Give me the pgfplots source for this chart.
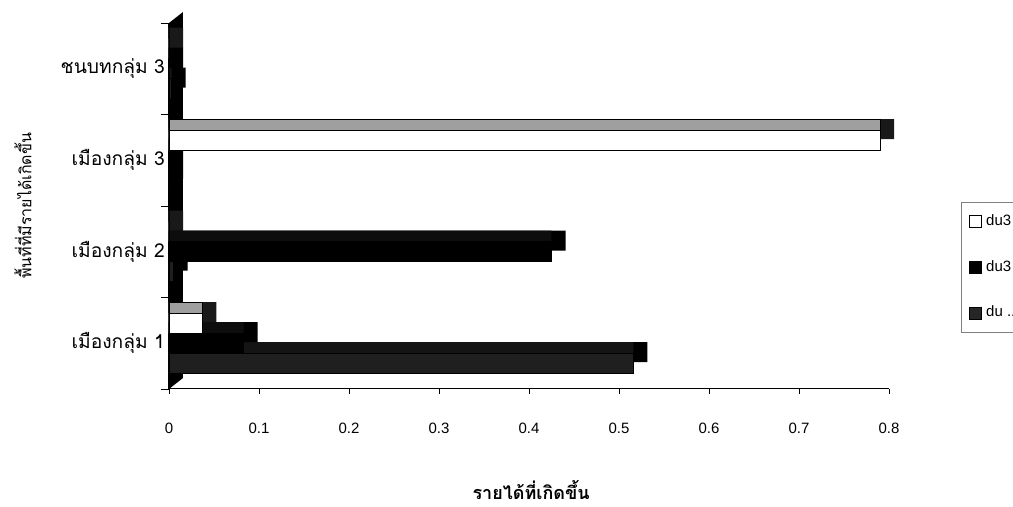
\documentclass[border=0pt]{standalone}
\usepackage{fontspec}
\setmainfont{Liberation Sans}
\newfontfamily\thai[Script=Thai]{Loma}
\usepackage{pgfplots}
\pgfplotsset{compat=1.18}
\usepackage{pgfplotstable}

% values per category: y=1 เมืองกลุ่ม 1, 2 เมืองกลุ่ม 2, 3 เมืองกลุ่ม 3, 4 ชนบทกลุ่ม 3
\pgfplotstableread{
y w b g
1 0.037 0.083 0.516
2 0.000 0.425 0.005
3 0.790 0.000 0.000
4 0.000 0.000 0.003
}\data

\def\dep{0.0156}

\begin{document}
\begin{tikzpicture}
\path[use as bounding box] (0,0) rectangle (506.5pt,253.5pt);
\begin{axis}[
  at={(84.5pt,59pt)}, anchor=south west,
  width=360pt, height=183pt, scale only axis,
  xmin=0, xmax=0.8, ymin=0.5, ymax=4.5,
  clip=false,
  axis lines=left, axis line style={-, black, line width=0.5pt},
  xtick={0,0.1,0.2,0.3,0.4,0.5,0.6,0.7,0.8},
  /pgf/number format/assume math mode=true,
  xticklabel style={font=\fontsize{7.5}{9}\selectfont, yshift=-11pt},
  ytick={1,2,3,4},
  yticklabels={เมืองกลุ่ม 1,เมืองกลุ่ม 2,เมืองกลุ่ม 3,ชนบทกลุ่ม 3},
  yticklabel style={font=\thai\fontsize{9.6}{10}\selectfont, xshift=4pt},
  minor ytick={0.5,1.5,2.5,3.5,4.5},
  tick align=outside,
  major x tick style={black, line width=0.4pt},
  major y tick style={draw=none},
  minor y tick style={black, line width=0.4pt},
  major tick length=2.5pt, minor tick length=4pt,
  xlabel={รายได้ที่เกิดขึ้น},
  xlabel style={font=\thai\bfseries\fontsize{9}{10}\selectfont, at={(axis description cs:0.503,-0.275)}, anchor=center},
  ylabel={พื้นที่ที่มีรายได้เกิดขึ้น},
  ylabel style={font=\thai\fontsize{8}{9}\selectfont, at={(axis description cs:-0.203,0.5)}, anchor=center, rotate=0},
  xbar, bar width=10pt,
  legend style={at={(axis description cs:1.1,0.511)}, anchor=north west, draw=gray, font=\fontsize{7.5}{9}\selectfont, row sep=12pt, inner sep=4pt},
  legend cell align=left,
  legend image code/.code={\draw[#1] (0pt,-3pt) rectangle (6pt,3pt);},
]
\addlegendimage{fill=white, draw=black}
\addlegendentry{du3 ...}
\addlegendimage{fill=black, draw=black}
\addlegendentry{du3 ...}
\addlegendimage{fill=black!85, draw=black}
\addlegendentry{du ...}

% left wall
\fill[black] (axis cs:0,0.5) -- ([xshift=7pt,yshift=5.5pt]axis cs:0,0.5) -- ([xshift=7pt,yshift=5.5pt]axis cs:0,4.5) -- (axis cs:0,4.5) -- cycle;

% series 3 (dark grey, bottom)
\addplot[forget plot, xbar, bar shift=-4.5pt, fill=black, draw=none] table[y=y, x expr=\thisrow{g}+\dep] {\data};
\addplot[forget plot, xbar, bar shift=-4.5pt, fill=black!92, draw=none] table[y=y, x=g] {\data};
\addplot[forget plot, xbar, bar shift=-10pt, fill=black!88, draw=black, line width=0.3pt] table[y=y, x=g] {\data};
% series 2 (black, middle)
\addplot[forget plot, xbar, bar shift=5.5pt, fill=black, draw=none] table[y=y, x expr=\thisrow{b}+\dep] {\data};
\addplot[forget plot, xbar, bar shift=5.5pt, fill=black!95, draw=none] table[y=y, x=b] {\data};
\addplot[forget plot, xbar, bar shift=0pt, fill=black, draw=black, line width=0.3pt] table[y=y, x=b] {\data};
% series 1 (white, top)
\addplot[forget plot, xbar, bar shift=15.5pt, fill=black!90, draw=none] table[y=y, x expr=\thisrow{w}+\dep] {\data};
\addplot[forget plot, xbar, bar shift=15.5pt, fill=gray!75, draw=black, line width=0.3pt] table[y=y, x=w] {\data};
\addplot[forget plot, xbar, bar shift=10pt, fill=white, draw=black, line width=0.4pt] table[y=y, x=w] {\data};
\end{axis}
\end{tikzpicture}
\end{document}
